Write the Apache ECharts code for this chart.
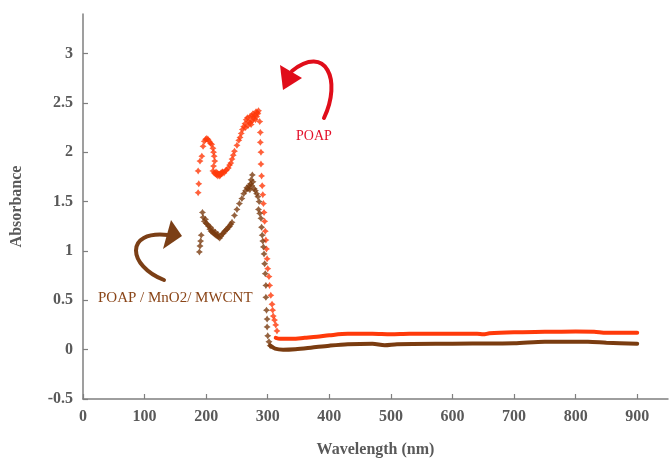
<!DOCTYPE html>
<html><head><meta charset="utf-8">
<script src="https://cdn.jsdelivr.net/npm/echarts@6/dist/echarts.min.js"></script>
<style>html,body{margin:0;padding:0;background:#fff}#c{width:670px;height:463px}</style>
</head><body><div id="c"></div>
<script>
const xTicks = [0, 100, 200, 300, 400, 500, 600, 700, 800, 900];
const yTicks = [-0.5, 0, 0.5, 1, 1.5, 2, 2.5, 3];

// POAP (red) – discrete points in the absorption region
const poapPoints = [
  [187,1.59],[188,1.68],[187,1.81],[190,1.91],[193,1.96],[195,2.06],[197,2.11],[199,2.13],[201,2.14],
  [203,2.13],[205,2.11],[207,2.09],[209,2.08],[211,2.04],[212,2.0],[213,1.96],[214,1.91],[212,1.86],
  [211,1.81],[213,1.79],[215,1.78],[216,1.8],[217,1.77],[218,1.79],[219,1.76],[220,1.78],[221,1.78],
  [222,1.76],[223,1.77],[224,1.79],[225,1.78],[226,1.8],[227,1.8],[229,1.79],[231,1.81],[233,1.82],
  [236,1.84],[238,1.87],[240,1.89],[242,1.93],[244,1.97],[246,2.01],[250,2.07],[253,2.12],[255,2.15],
  [257,2.19],[259,2.23],[261,2.26],[263,2.29],[264,2.25],[265,2.33],[267,2.35],[268,2.27],[269,2.31],
  [271,2.36],[272,2.3],[273,2.28],[274,2.37],[275,2.32],[276,2.39],[277,2.34],[278,2.36],[279,2.38],
  [280,2.33],[281,2.41],[282,2.36],[283,2.4],[284,2.39],[285,2.42],[287,2.31],[288,2.2],[288,2.1],
  [289,2.0],[289,1.88],[290,1.76],[291,1.66],[292,1.57],[293,1.48],[294,1.39],[295,1.3],[296,1.2],
  [297,1.11],[298,1.02],[299,0.92],[300,0.82],[302,0.74],[303,0.65],[305,0.55],[307,0.46],[308,0.4],
  [309,0.34],[311,0.3],[313,0.25],[315,0.19]
];
// POAP (red) – continuous baseline
const poapBase = [
  [313,0.12],[320,0.11],[340,0.11],[360,0.12],[380,0.13],[400,0.145],[430,0.16],[470,0.16],
  [500,0.155],[530,0.16],[640,0.16],[650,0.155],[660,0.165],[700,0.175],[750,0.18],[800,0.185],
  [830,0.18],[850,0.17],[900,0.17]
];
// POAP / MnO2 / MWCNT (brown) – discrete points
const compPoints = [
  [189,0.99],[190,1.05],[191,1.1],[192,1.16],[194,1.39],[195,1.34],[197,1.3],[199,1.32],[200,1.28],
  [202,1.27],[204,1.25],[206,1.22],[207,1.24],[208,1.2],[210,1.19],[211,1.21],[212,1.18],[214,1.17],
  [215,1.19],[216,1.16],[218,1.15],[219,1.17],[220,1.14],[222,1.13],[224,1.15],[226,1.17],[228,1.18],
  [230,1.2],[232,1.21],[234,1.22],[236,1.24],[238,1.25],[240,1.27],[242,1.29],[246,1.36],[250,1.42],
  [254,1.48],[258,1.53],[261,1.58],[264,1.61],[266,1.64],[268,1.63],[270,1.66],[271,1.62],[272,1.68],
  [273,1.72],[274,1.66],[275,1.77],[276,1.7],[278,1.63],[280,1.61],[282,1.58],[284,1.55],[286,1.5],
  [285,1.42],[287,1.38],[289,1.33],[290,1.24],[291,1.16],[292,1.1],[293,1.04],[294,0.97],[295,0.87],
  [296,0.77],[297,0.65],[297,0.53],[298,0.4],[299,0.31],[299,0.23],[300,0.14],[302,0.08],[304,0.04]
];
// POAP / MnO2 / MWCNT (brown) – continuous baseline
const compBase = [
  [304,0.04],[312,0.01],[325,0.0],[345,0.005],[370,0.02],[400,0.04],[430,0.055],[470,0.06],
  [490,0.045],[510,0.055],[600,0.06],[700,0.065],[750,0.08],[820,0.08],[850,0.07],[900,0.06]
];

const RED = '#ff3a0a';
const BROWN = '#7a3c10';
const STAR = 'path://M0,-10L4,-4L10,0L4,4L0,10L-4,4L-10,0L-4,-4Z';
const SERIF = '"Liberation Serif","Times New Roman",serif';
const GREY = '#595959';

const chart = echarts.init(document.getElementById('c'), null, {renderer: 'canvas'});
chart.setOption({
  animation: false,
  backgroundColor: '#fff',
  grid: {left: 83, right: 2, top: 14, bottom: 63, containLabel: false},
  xAxis: {
    type: 'value', min: 0, max: 950,
    name: 'Wavelength (nm)', nameLocation: 'middle', nameGap: 43,
    nameTextStyle: {fontFamily: SERIF, fontWeight: 'bold', fontSize: 16, color: GREY},
    axisLine: {onZero: false, lineStyle: {color: '#7f7f7f', width: 1.5}},
    axisTick: {inside: true, length: 5, customValues: xTicks, lineStyle: {color: '#7f7f7f', width: 1.2}},
    axisLabel: {customValues: xTicks, margin: 10, fontFamily: SERIF, fontWeight: 'bold', fontSize: 16, color: GREY},
    splitLine: {show: false}
  },
  yAxis: {
    type: 'value', min: -0.5, max: 3.4,
    name: 'Absorbance', nameLocation: 'middle', nameGap: 58, nameRotate: 90,
    nameTextStyle: {fontFamily: SERIF, fontWeight: 'bold', fontSize: 16, color: GREY},
    axisLine: {show: true, onZero: false, lineStyle: {color: '#7f7f7f', width: 1.5}},
    axisTick: {show: true, inside: true, length: 5, customValues: yTicks, lineStyle: {color: '#7f7f7f', width: 1.2}},
    axisLabel: {customValues: yTicks, margin: 10, fontFamily: SERIF, fontWeight: 'bold', fontSize: 16, color: GREY},
    splitLine: {show: false}
  },
  series: [
    {type: 'line', data: poapBase, showSymbol: false, smooth: 0.3, lineStyle: {color: RED, width: 4, cap: 'round'}, z: 2},
    {type: 'line', data: compBase, showSymbol: false, smooth: 0.3, lineStyle: {color: BROWN, width: 4, cap: 'round'}, z: 2},
    {type: 'scatter', data: poapPoints, symbol: STAR, symbolSize: 7, itemStyle: {color: RED}, z: 3},
    {type: 'scatter', data: compPoints, symbol: STAR, symbolSize: 7, itemStyle: {color: BROWN}, z: 4}
  ],
  graphic: [
    // red curved arrow
    {type: 'bezierCurve', shape: {x1: 324, y1: 118, cpx1: 342, cpy1: 80, cpx2: 326, cpy2: 44, x2: 292, y2: 71},
     style: {stroke: '#e00d1a', lineWidth: 4, fill: null, lineCap: 'round'}},
    {type: 'polygon', shape: {points: [[280, 65], [283, 90], [302, 78]]}, style: {fill: '#e00d1a'}},
    {type: 'text', left: 296, top: 129, style: {text: 'POAP', fill: '#e3102a', font: '14px ' + SERIF}},
    // brown curved arrow
    {type: 'bezierCurve', shape: {x1: 164, y1: 280, cpx1: 128, cpy1: 266, cpx2: 124, cpy2: 230, x2: 168, y2: 235},
     style: {stroke: '#7b3f16', lineWidth: 4, fill: null, lineCap: 'round'}},
    {type: 'polygon', shape: {points: [[171, 220], [182, 236], [163, 249]]}, style: {fill: '#7b3f16'}},
    {type: 'text', left: 98, top: 291, style: {text: 'POAP / MnO2/ MWCNT', fill: '#8a4518', font: '15px ' + SERIF}}
  ]
});
</script>
</body></html>
